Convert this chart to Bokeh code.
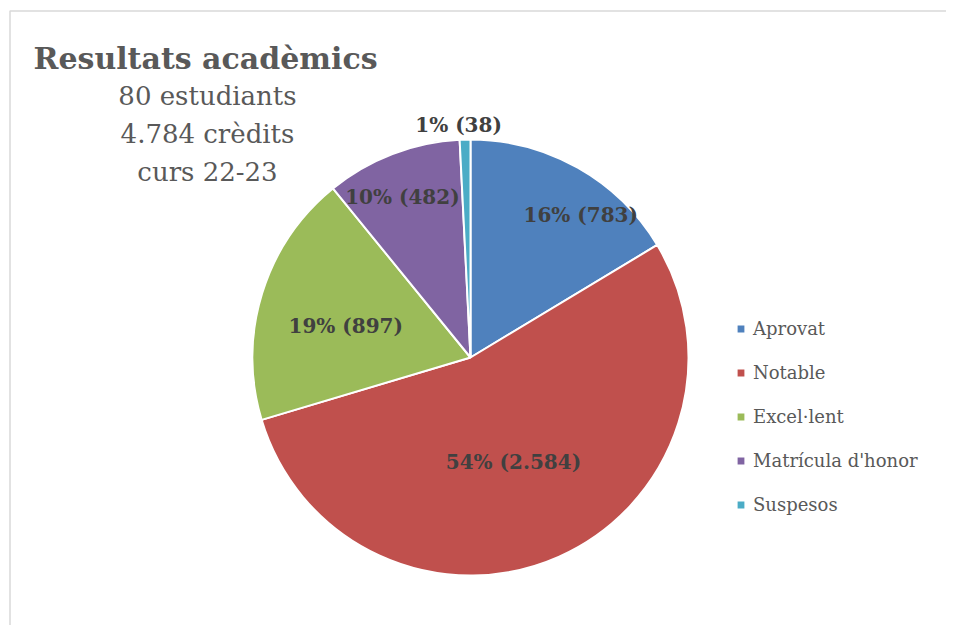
import math
from bokeh.plotting import figure
from bokeh.models import Range1d, Legend, LegendItem, Label, ColumnDataSource
from bokeh.embed import file_html
from bokeh.resources import INLINE

# ---- data ----
categories = ["Aprovat", "Notable", "Excel·lent", "Matrícula d'honor", "Suspesos"]
credits = [783, 2584, 897, 482, 38]
colors = ["#4F81BD", "#C0504D", "#9BBB59", "#8064A2", "#4BACC6"]
title_text = "Resultats acadèmics"
subtitle_lines = ["80 estudiants", "4.784 crèdits", "curs 22-23"]

W, H = 946, 625
FONT = "DejaVu Serif"
GREY = "#595959"

def X(ix):
    return ix

def Y(iy):
    return H - iy

total = sum(credits)
cx, cy, R = X(470), Y(357), 218

# angles: start at 12 o'clock, go clockwise
starts, ends, mids = [], [], []
cum = 0
for v in credits:
    a0 = math.pi / 2 - 2 * math.pi * cum / total
    cum += v
    a1 = math.pi / 2 - 2 * math.pi * cum / total
    starts.append(a1)
    ends.append(a0)
    mids.append((cum - v / 2) / total * 360.0)  # degrees clockwise from top

def fmt_int(n):
    return f"{n:,}".replace(",", ".")

labels = [f"{round(v / total * 100):.0f}% ({fmt_int(v)})" for v in credits]

# label placement (fraction of radius, angular nudge in degrees)
rad_frac = [0.826, 0.52, 0.59, 0.80, 1.07]
ang_nudge = [8.3, 1.6, -3.0, -2.0, -1.5]
lx, ly = [], []
for m, f, d in zip(mids, rad_frac, ang_nudge):
    t = math.radians(m + d)
    lx.append(cx + R * f * math.sin(t))
    ly.append(cy + R * f * math.cos(t))

src = ColumnDataSource(dict(cat=categories, val=credits, color=colors,
                            start=starts, end=ends, lab=labels, lx=lx, ly=ly))

p = figure(width=W, height=H, output_backend="svg", toolbar_location=None,
           x_range=Range1d(0, W), y_range=Range1d(0, H), min_border=0)
p.axis.visible = False
p.grid.visible = False
p.outline_line_color = None
p.background_fill_color = "white"
p.border_fill_color = "white"

# chart area border (top and left visible)
p.line(x=[X(9.5), X(9.5), W], y=[0, Y(10.5), Y(10.5)], line_color="#d9d9d9", line_width=1.5)

w = p.wedge(x=cx, y=cy, radius=R, start_angle="start", end_angle="end",
            direction="anticlock", fill_color="color", line_color="white",
            line_width=2, source=src)

p.text(x="lx", y="ly", text="lab", source=src, text_align="center",
       text_baseline="middle", text_color="#404040", text_font_size="20px",
       text_font_style="bold", text_font={"value": FONT})

# title and subtitle
p.add_layout(Label(x=X(33), y=Y(58), text=title_text, text_font=FONT,
                   text_font_size="30px", text_font_style="bold",
                   text_color=GREY, text_baseline="alphabetic"))
sub_base = [95, 133, 171]
for t, b in zip(subtitle_lines, sub_base):
    p.add_layout(Label(x=X(207), y=Y(b), text=t, text_font=FONT,
                       text_font_size="26px", text_color=GREY,
                       text_align="center", text_baseline="alphabetic"))

items = [LegendItem(label=c, renderers=[w], index=i) for i, c in enumerate(categories)]
legend = Legend(items=items, location=(X(735), Y(515)), orientation="vertical",
                glyph_width=11, glyph_height=11, label_text_font=FONT,
                label_text_font_size="18px", label_text_color=GREY,
                label_standoff=7, label_height=20, spacing=23, padding=0,
                margin=0, border_line_color=None, background_fill_alpha=0)
p.add_layout(legend)

open("out.html", "w").write(file_html(p, INLINE))
